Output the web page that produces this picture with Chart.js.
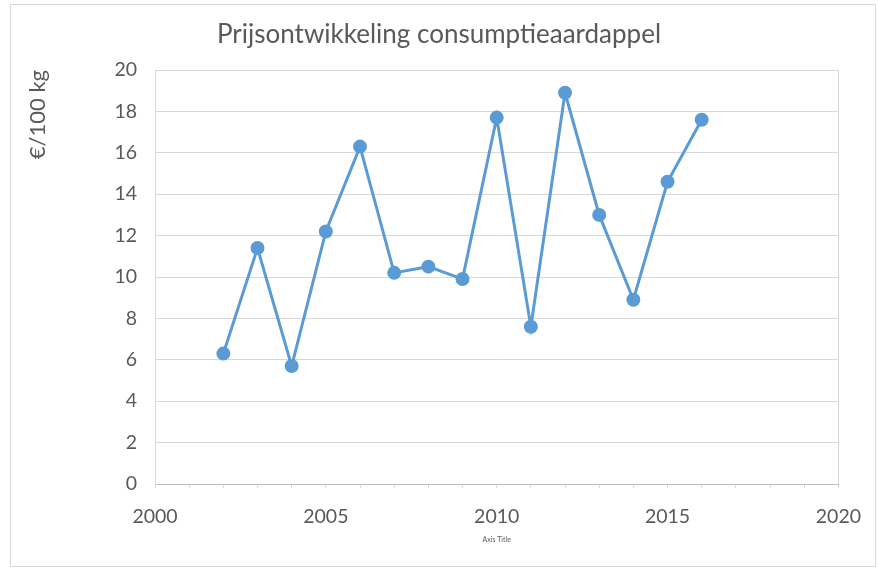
<!DOCTYPE html>
<html>
<head>
<meta charset="utf-8">
<script src="https://cdn.jsdelivr.net/npm/chart.js@4/dist/chart.umd.min.js"></script>
<style>
  html, body { margin: 0; padding: 0; background: #fff; }
  #wrap { position: relative; width: 878px; height: 569px; }
  #frame { position: absolute; left: 10px; top: 4px; width: 866px; height: 563px;
           border: 1px solid #d9d9d9; box-sizing: border-box; pointer-events: none; }
</style>
</head>
<body>
<div id="wrap">
  <canvas id="myChart" width="878" height="569"></canvas>
  <div id="frame"></div>
</div>
<script>
var years = [2002, 2003, 2004, 2005, 2006, 2007, 2008, 2009, 2010, 2011, 2012, 2013, 2014, 2015, 2016]
var prices = [6.3, 11.4, 5.7, 12.2, 16.3, 10.2, 10.5, 9.9, 17.7, 7.6, 18.9, 13.0, 8.9, 14.6, 17.6]
var chartTitle = 'Prijsontwikkeling consumptieaardappel'
var yTitle = '€/100 kg'
var xTitle = 'Axis Title'

var points = []
years.forEach((yr, i) => {
  points.push({x: yr, y: prices[i]})
})

var gray = '#595959'
var gridColor = '#d9d9d9'
var blue = '#5b9bd5'

const ctx = document.getElementById('myChart');
var myLinePlot = new Chart(ctx, {
  type: 'scatter',
  data: {
    datasets: [{
      label: 'Prijs',
      data: points,
      showLine: true,
      borderColor: blue,
      backgroundColor: blue,
      borderWidth: 3,
      pointRadius: 5.5,
      pointHoverRadius: 5.5
    }]
  },
  options: {
    responsive: false,
    animation: false,
    layout: {
      padding: {left: 0, right: 0, top: 0, bottom: 10}
    },
    scales: {
      x: {
        type: 'linear',
        min: 2000,
        max: 2020,
        afterFit: function(scale) { scale.height = 75 },
        ticks: {
          stepSize: 1,
          autoSkip: false,
          maxRotation: 0,
          padding: 17,
          color: gray,
          font: {family: 'Lato', size: 19.5},
          callback: function(v) { return v % 5 === 0 ? String(v) : '' }
        },
        grid: {
          color: function(c) {
            var v = c.tick ? c.tick.value : null
            return (v === 2000 || v === 2020) ? gridColor : 'rgba(0,0,0,0)'
          },
          tickColor: gridColor,
          tickLength: 4
        },
        border: {color: '#bfbfbf'},
        title: {
          display: true,
          text: xTitle,
          color: gray,
          font: {family: 'Lato', size: 7},
          padding: {top: 0, bottom: 15}
        }
      },
      y: {
        min: 0,
        max: 20,
        afterFit: function(scale) { scale.width = 155 },
        ticks: {
          stepSize: 2,
          padding: 18,
          color: gray,
          font: {family: 'Lato', size: 19.5}
        },
        grid: {color: gridColor, drawTicks: false},
        border: {color: gridColor},
        title: {
          display: true,
          text: yTitle,
          align: 'end',
          color: gray,
          font: {family: 'Lato', size: 22},
          padding: {top: 25, bottom: 0}
        }
      },
      // empty right-hand axis, only reserves the margin
      yRight: {
        position: 'right',
        min: 0,
        max: 20,
        afterFit: function(scale) { scale.width = 36 },
        ticks: {display: false},
        grid: {display: false},
        border: {display: false}
      }
    },
    plugins: {
      legend: {display: false},
      tooltip: {enabled: false},
      title: {
        display: true,
        text: chartTitle,
        color: gray,
        font: {family: 'Lato', size: 26, weight: 'normal'},
        padding: {top: 19, bottom: 19.8}
      }
    }
  }
});
</script>
</body>
</html>
